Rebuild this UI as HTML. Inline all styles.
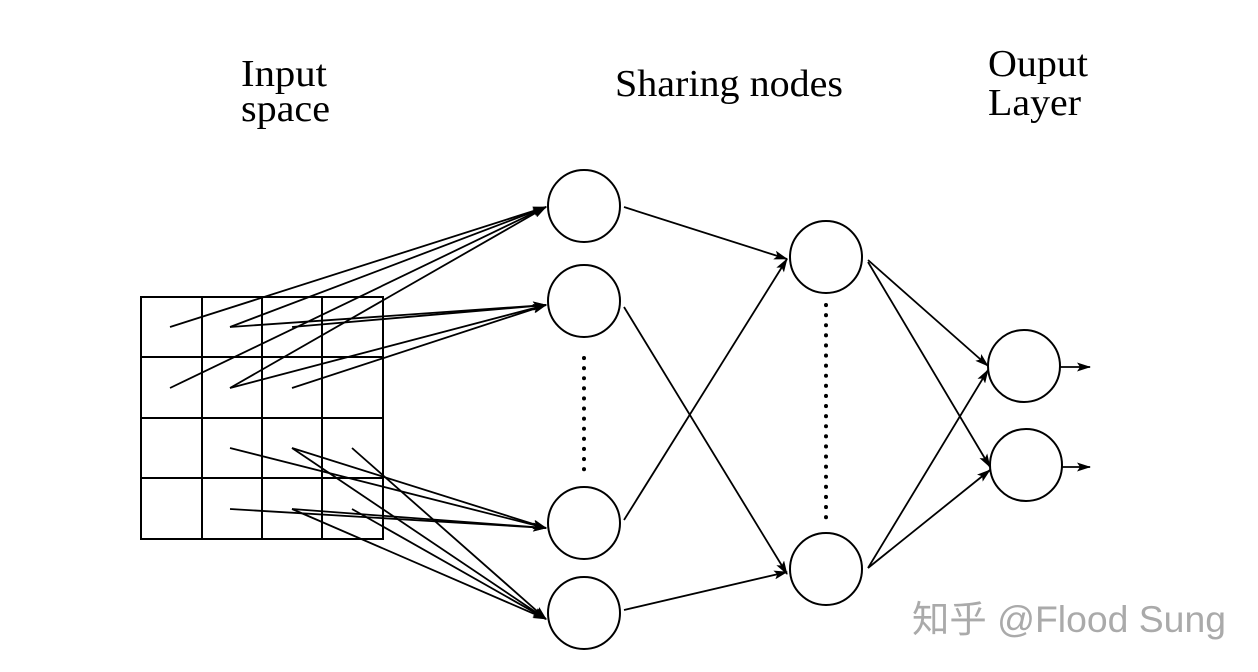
<!DOCTYPE html>
<html><head><style>body{margin:0;background:#fff}svg{display:block}</style></head><body>
<svg width="1258" height="672" viewBox="0 0 1258 672" xmlns="http://www.w3.org/2000/svg">
<defs><marker id="a" markerWidth="14" markerHeight="9" refX="13" refY="4.5" orient="auto" markerUnits="userSpaceOnUse"><path d="M0,0 L14,4.5 L0,9 L3,4.5z" fill="#000"/></marker></defs>
<g font-family="Liberation Serif, serif" font-size="38" fill="#000">
<text x="241" y="86" textLength="86" lengthAdjust="spacingAndGlyphs">Input</text><text x="241" y="121" textLength="89" lengthAdjust="spacingAndGlyphs">space</text>
<text x="615" y="96" textLength="228" lengthAdjust="spacingAndGlyphs">Sharing nodes</text>
<text x="988" y="76" textLength="100" lengthAdjust="spacingAndGlyphs">Ouput</text><text x="988" y="115" textLength="93" lengthAdjust="spacingAndGlyphs">Layer</text>
</g>
<g stroke="#000" stroke-width="2" fill="none">
<rect x="141" y="297" width="242" height="242"/>
<line x1="202" y1="297" x2="202" y2="539"/><line x1="262" y1="297" x2="262" y2="539"/><line x1="322" y1="297" x2="322" y2="539"/>
<line x1="141" y1="357" x2="383" y2="357"/><line x1="141" y1="418" x2="383" y2="418"/><line x1="141" y1="478" x2="383" y2="478"/>
<circle cx="584" cy="206" r="36"/><circle cx="584" cy="301" r="36"/><circle cx="584" cy="523" r="36"/><circle cx="584" cy="613" r="36"/>
<circle cx="826" cy="257" r="36"/><circle cx="826" cy="569" r="36"/>
<circle cx="1024" cy="366" r="36"/><circle cx="1026" cy="465" r="36"/>
</g>
<g stroke="#000" stroke-width="4" stroke-dasharray="0.1 10" stroke-linecap="round">
<line x1="584" y1="358" x2="584" y2="472"/><line x1="826" y1="305" x2="826" y2="520"/>
</g>
<g stroke="#000" stroke-width="1.8" marker-end="url(#a)">
<line x1="170" y1="327" x2="546" y2="207"/><line x1="230" y1="327" x2="546" y2="207"/><line x1="170" y1="388" x2="546" y2="207"/><line x1="230" y1="388" x2="546" y2="207"/>
<line x1="230" y1="327" x2="546" y2="305"/><line x1="292" y1="327" x2="546" y2="305"/><line x1="230" y1="388" x2="546" y2="305"/><line x1="292" y1="388" x2="546" y2="305"/>
<line x1="230" y1="448" x2="546" y2="528"/><line x1="292" y1="448" x2="546" y2="528"/><line x1="230" y1="509" x2="546" y2="528"/><line x1="292" y1="509" x2="546" y2="528"/>
<line x1="292" y1="448" x2="546" y2="619"/><line x1="352" y1="448" x2="546" y2="619"/><line x1="292" y1="509" x2="546" y2="619"/><line x1="352" y1="509" x2="546" y2="619"/>
<line x1="624" y1="207" x2="787" y2="259"/><line x1="624" y1="307" x2="787" y2="574"/><line x1="624" y1="520" x2="787" y2="259"/><line x1="624" y1="610" x2="787" y2="572"/>
<line x1="868" y1="260" x2="988" y2="366"/><line x1="868" y1="262" x2="990" y2="467"/><line x1="868" y1="568" x2="988" y2="370"/><line x1="868" y1="568" x2="990" y2="470"/>
<line x1="1060" y1="367" x2="1090" y2="367"/><line x1="1062" y1="467" x2="1090" y2="467"/>
</g>
<text x="912" y="632" font-family="Liberation Sans, Noto Sans CJK SC, sans-serif" font-size="37" fill="#aaa" textLength="314" lengthAdjust="spacingAndGlyphs">知乎 @Flood Sung</text>
</svg>
</body></html>
